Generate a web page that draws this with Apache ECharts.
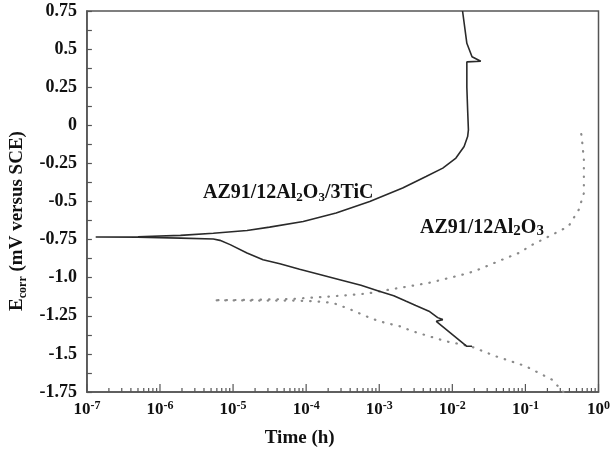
<!DOCTYPE html>
<html>
<head>
<meta charset="utf-8">
<script src="https://cdn.jsdelivr.net/npm/echarts@6/dist/echarts.min.js"></script>
<style>
  html, body { margin: 0; padding: 0; background: #fff; }
  #chart { width: 613px; height: 463px; }
</style>
</head>
<body>
<div id="chart"></div>
<script>
// AZ91/12Al2O3/3TiC : solid curve, cathodic branch first, then anodic
var solidTime = [1.86e-2, 1.58e-2, 6.03e-3, 7.41e-3, 6.31e-3, 4.79e-3, 3.16e-3, 2.34e-3, 1.58e-3, 1.0e-3,
    5.62e-4, 2.88e-4, 1.58e-4, 8.13e-5, 4.37e-5, 2.57e-5, 1.55e-5, 9.12e-6, 6.61e-6, 5.37e-6,
    1.91e-6, 5.0e-7, 1.32e-7,
    5.0e-7, 1.91e-6, 5.37e-6, 1.55e-5, 3.16e-5, 9.12e-5, 2.57e-4, 7.41e-4, 2.09e-3,
    4.37e-3, 7.41e-3, 1.12e-2, 1.45e-2, 1.62e-2, 1.66e-2, 1.62e-2, 1.58e-2, 1.58e-2, 2.45e-2,
    1.86e-2, 1.58e-2, 1.38e-2];
var solidPotential = [-1.45, -1.45, -1.286, -1.275, -1.262, -1.22, -1.183, -1.155, -1.118, -1.089,
    -1.05, -1.013, -0.98, -0.945, -0.908, -0.882, -0.838, -0.783, -0.755, -0.746,
    -0.74, -0.735, -0.733,
    -0.731, -0.722, -0.708, -0.69, -0.668, -0.631, -0.576, -0.50, -0.412,
    -0.336, -0.281, -0.215, -0.139, -0.074, -0.03, 0.1, 0.25, 0.416, 0.42,
    0.45, 0.538, 0.75];

// AZ91/12Al2O3 : dotted curve
var dottedTime = [0.331, 0.229, 0.1, 3.89e-2, 1.78e-2, 8.13e-3, 2.88e-3, 1.91e-3, 1.0e-3, 6.61e-4,
    3.89e-4, 2.34e-4, 1.38e-4, 6.61e-5, 2.0e-5, 5.37e-6,
    2.0e-5, 6.61e-5, 2.34e-4, 6.61e-4, 1.38e-3, 4.79e-3, 1.38e-2, 2.0e-2, 3.55e-2, 4.79e-2,
    8.51e-2, 0.112, 0.209, 0.389, 0.537, 0.631, 0.631, 0.589, 0.562];
var dottedPotential = [-1.75, -1.668, -1.58, -1.515, -1.45, -1.417, -1.352, -1.319, -1.286, -1.253,
    -1.205, -1.166, -1.155, -1.15, -1.15, -1.148,
    -1.145, -1.139, -1.122, -1.105, -1.078, -1.034, -0.98, -0.958, -0.908, -0.882,
    -0.834, -0.795, -0.729, -0.663, -0.554, -0.445, -0.226, -0.074, -0.019];

var xTickExp = ['-7', '-6', '-5', '-4', '-3', '-2', '-1', '0'];
var yTickLabels = ['-1.75', '-1.5', '-1.25', '-1.0', '-0.75', '-0.5', '-0.25', '0', '0.25', '0.5', '0.75'];

function pairs(xs, ys) {
    return xs.map(function (x, i) { return [x, ys[i]]; });
}

// decade ticks plus 2..9 minor ticks, as on a usual log axis
function logTicks() {
    var list = [];
    xTickExp.forEach(function (e, i) {
        var base = Math.pow(10, Number(e));
        list.push([base, 1]);
        if (i < xTickExp.length - 1) {
            for (var k = 2; k <= 9; k++) list.push([k * base, 0]);
        }
    });
    return list;
}

function renderChart(dom) {
    if (!dom) return;
    var myChart = echarts.init(dom);
    var serif = '"Liberation Serif", "Times New Roman", serif';
    var option = {
        backgroundColor: '#fff',
        animation: false,
        grid: {
            left: 86, right: 13, top: 11, bottom: 71,
            show: true, borderColor: '#555', borderWidth: 1.5
        },
        xAxis: {
            type: 'log',
            logBase: 10,
            min: 1e-7,
            max: 1,
            name: 'Time (h)',
            nameLocation: 'middle',
            nameGap: 37,
            nameTextStyle: {
                fontFamily: serif, fontWeight: 'bold', fontSize: 19, color: '#111',
                padding: [0, 86, 0, 0]
            },
            axisLine: { onZero: false, lineStyle: { color: '#555', width: 1.5 } },
            axisTick: { show: false },
            minorTick: { show: false },
            splitLine: { show: false },
            axisLabel: {
                margin: 8,
                formatter: function (v, i) {
                    return '{a|10}{s|' + xTickExp[i] + '}';
                },
                rich: {
                    a: { fontFamily: serif, fontWeight: 'bold', fontSize: 17, color: '#111', lineHeight: 19 },
                    s: { fontFamily: serif, fontWeight: 'bold', fontSize: 12, color: '#111', lineHeight: 12, verticalAlign: 'top' }
                }
            }
        },
        yAxis: {
            type: 'value',
            min: -1.75,
            max: 0.75,
            interval: 0.25,
            name: '{e|E}{sub|corr}{e| (mV versus SCE)}',
            nameLocation: 'middle',
            nameRotate: 90,
            nameGap: 58,
            nameTextStyle: {
                padding: [0, 39, 0, 0],
                rich: {
                    e: { fontFamily: serif, fontWeight: 'bold', fontSize: 19, color: '#111', lineHeight: 22 },
                    sub: { fontFamily: serif, fontWeight: 'bold', fontSize: 12, color: '#111', lineHeight: 12, verticalAlign: 'bottom' }
                }
            },
            axisLine: { show: true, lineStyle: { color: '#555', width: 1.5 } },
            axisTick: { show: true, inside: true, length: 5, lineStyle: { color: '#555', width: 1.2 } },
            minorTick: { show: true, splitNumber: 2, length: 5, lineStyle: { color: '#555', width: 1.2 } },
            splitLine: { show: false },
            axisLabel: {
                margin: 10,
                fontFamily: serif, fontWeight: 'bold', fontSize: 18, color: '#111',
                formatter: function (v, i) { return yTickLabels[i]; }
            }
        },
        graphic: [
            {
                type: 'text', left: 203, top: 183,
                style: {
                    text: '{a|AZ91/12Al}{b|2}{a|O}{b|3}{a|/3TiC}',
                    rich: {
                        a: { fontFamily: serif, fontWeight: 'bold', fontSize: 20, fill: '#111', lineHeight: 22 },
                        b: { fontFamily: serif, fontWeight: 'bold', fontSize: 13, fill: '#111', lineHeight: 13, verticalAlign: 'bottom' }
                    }
                }
            },
            {
                type: 'text', left: 420, top: 218,
                style: {
                    text: '{a|AZ91/12Al}{b|2}{a|O}{b|3}',
                    rich: {
                        a: { fontFamily: serif, fontWeight: 'bold', fontSize: 20, fill: '#111', lineHeight: 22 },
                        b: { fontFamily: serif, fontWeight: 'bold', fontSize: 15, fill: '#111', lineHeight: 15, verticalAlign: 'bottom' }
                    }
                }
            }
        ],
        series: [
            {
                name: 'AZ91/12Al2O3/3TiC',
                type: 'line',
                data: pairs(solidTime, solidPotential),
                showSymbol: false,
                lineStyle: { color: '#2a2a2a', width: 1.6 },
                z: 3
            },
            {
                name: 'AZ91/12Al2O3',
                type: 'line',
                data: pairs(dottedTime, dottedPotential),
                showSymbol: false,
                lineStyle: { color: '#8a8a8a', width: 2.2, type: [0.5, 8], cap: 'round' },
                z: 2
            },
            {
                name: 'xTicks',
                type: 'custom',
                clip: false,
                silent: true,
                data: logTicks(),
                renderItem: function (params, api) {
                    var p = api.coord([api.value(0), -1.75]);
                    var len = api.value(1) ? 8 : 4;
                    return {
                        type: 'line',
                        shape: { x1: p[0], y1: p[1], x2: p[0], y2: p[1] - len },
                        style: { stroke: '#555', lineWidth: 1.2 }
                    };
                },
                z: 4
            }
        ]
    };
    option && myChart.setOption(option);
}

renderChart(document.getElementById('chart'));
</script>
</body>
</html>
